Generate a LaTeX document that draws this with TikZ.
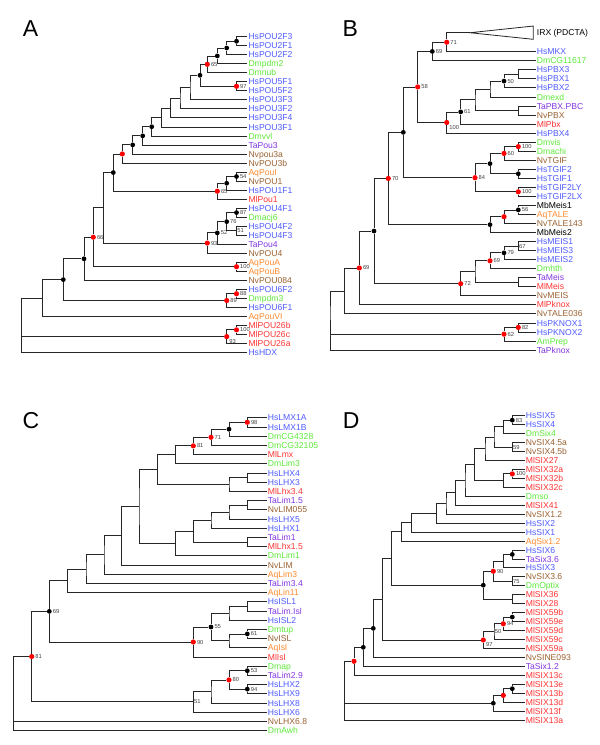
\documentclass[tikz,border=0pt]{standalone}
\usepackage{fontspec}
\setmainfont{Liberation Sans}
\usepackage{xcolor}
\definecolor{CHs}{HTML}{4F5BFF}
\definecolor{CDm}{HTML}{5EE83A}
\definecolor{CTa}{HTML}{8236E0}
\definecolor{CNv}{HTML}{9A6233}
\definecolor{CAq}{HTML}{FF8A2E}
\definecolor{CMl}{HTML}{FF3333}
\definecolor{CDot}{HTML}{FF0000}
\usepackage{tikz}
\newcommand{\leafFont}{\fontsize{8.6}{9}\selectfont}
\newcommand{\bootFont}{\fontsize{5.8}{6}\selectfont}
\newcommand{\panelFont}{\fontsize{23}{23}\selectfont}
\tikzstyle{branch}=[draw=black!85, line width=0.8pt]
\tikzstyle{leaf}=[anchor=west, inner sep=1pt, text height=6.2pt, text depth=0pt, font=\leafFont]
\tikzstyle{hsLeaf}=[leaf, text=CHs]
\tikzstyle{dmLeaf}=[leaf, text=CDm]
\tikzstyle{taLeaf}=[leaf, text=CTa]
\tikzstyle{nvLeaf}=[leaf, text=CNv]
\tikzstyle{aqLeaf}=[leaf, text=CAq]
\tikzstyle{mlLeaf}=[leaf, text=CMl]
\tikzstyle{mbLeaf}=[leaf, text=black]
\tikzstyle{blackDot}=[circle, fill=black, inner sep=0pt, minimum size=4.8pt]
\tikzstyle{redDot}=[circle, fill=CDot, inner sep=0pt, minimum size=5.2pt]
\tikzstyle{boot}=[font=\bootFont, text=black!75, inner sep=0.4pt, label distance=0.3pt]
\tikzstyle{panelLabel}=[font=\panelFont, inner sep=0pt]

\begin{document}
\begin{tikzpicture}[x=1pt,y=-1pt]
\useasboundingbox (0,0) rectangle (600,745);

\node[panelLabel] (labA) at (30.5,29) {A};
\node[panelLabel] (labB) at (350.3,29) {B};
\node[panelLabel] (labC) at (31,421) {C};
\node[panelLabel] (labD) at (351.3,421) {D};

% ---------------- A: POU ----------------
\begin{scope}[shift={(0,36.7)},y=-9.02pt]
\node[hsLeaf] (HsPOU2F3) at (247.3,0) {HsPOU2F3};
\node[hsLeaf] (HsPOU2F1) at (247.3,1) {HsPOU2F1};
\node[hsLeaf] (HsPOU2F2) at (247.3,2) {HsPOU2F2};
\node[dmLeaf] (Dmpdm2) at (247.3,3) {Dmpdm2};
\node[dmLeaf] (Dmnub) at (247.3,4) {Dmnub};
\node[hsLeaf] (HsPOU5F1) at (247.3,5) {HsPOU5F1};
\node[hsLeaf] (HsPOU5F2) at (247.3,6) {HsPOU5F2};
\node[hsLeaf] (HsPOU3F3) at (247.3,7) {HsPOU3F3};
\node[hsLeaf] (HsPOU3F2) at (247.3,8) {HsPOU3F2};
\node[hsLeaf] (HsPOU3F4) at (247.3,9) {HsPOU3F4};
\node[hsLeaf] (HsPOU3F1) at (247.3,10) {HsPOU3F1};
\node[dmLeaf] (Dmvvl) at (247.3,11) {Dmvvl};
\node[taLeaf] (TaPou3) at (247.3,12) {TaPou3};
\node[nvLeaf] (Nvpou3a) at (247.3,13) {Nvpou3a};
\node[nvLeaf] (NvPOU3b) at (247.3,14) {NvPOU3b};
\node[aqLeaf] (AqPouI) at (247.3,15) {AqPouI};
\node[nvLeaf] (NvPOU1) at (247.3,16) {NvPOU1};
\node[hsLeaf] (HsPOU1F1) at (247.3,17) {HsPOU1F1};
\node[mlLeaf] (MlPou1) at (247.3,18) {MlPou1};
\node[hsLeaf] (HsPOU4F1) at (247.3,19) {HsPOU4F1};
\node[dmLeaf] (Dmacj6) at (247.3,20) {Dmacj6};
\node[hsLeaf] (HsPOU4F2) at (247.3,21) {HsPOU4F2};
\node[hsLeaf] (HsPOU4F3) at (247.3,22) {HsPOU4F3};
\node[taLeaf] (TaPou4) at (247.3,23) {TaPou4};
\node[nvLeaf] (NvPOU4) at (247.3,24) {NvPOU4};
\node[aqLeaf] (AqPouA) at (247.3,25) {AqPouA};
\node[aqLeaf] (AqPouB) at (247.3,26) {AqPouB};
\node[nvLeaf] (NvPOU084) at (247.3,27) {NvPOU084};
\node[hsLeaf] (HsPOU6F2) at (247.3,28) {HsPOU6F2};
\node[dmLeaf] (Dmpdm3) at (247.3,29) {Dmpdm3};
\node[hsLeaf] (HsPOU6F1) at (247.3,30) {HsPOU6F1};
\node[aqLeaf] (AqPouVI) at (247.3,31) {AqPouVI};
\node[mlLeaf] (MlPOU26b) at (247.3,32) {MlPOU26b};
\node[mlLeaf] (MlPOU26c) at (247.3,33) {MlPOU26c};
\node[mlLeaf] (MlPOU26a) at (247.3,34) {MlPOU26a};
\node[hsLeaf] (HsHDX) at (247.3,35) {HsHDX};

\node[blackDot] (a1) at (236.5,0.5) {};
\node[blackDot] (a2) at (226.7,1.25) {};
\node[blackDot] (a3) at (217.3,2.13) {};
\node[redDot, label={[boot]right:65}] (a4) at (207.3,3.06) {};
\node[redDot, label={[boot]right:97}] (a5) at (236.5,5.5) {};
\node[blackDot] (a6) at (200,4.28) {};
\coordinate (a7) at (190,5.64);
\coordinate (a8) at (180,6.82);
\coordinate (a9) at (170.7,7.91);
\coordinate (a10) at (161.7,8.96);
\node[blackDot] (a11) at (151.7,9.98) {};
\node[blackDot] (a12) at (142.7,10.99) {};
\node[blackDot] (a13) at (132.7,11.99) {};
\node[redDot] (a14) at (122.3,13) {};
\node[blackDot, label={[boot]right:54}] (a15) at (236.5,15.5) {};
\node[blackDot] (a16) at (226.7,16.25) {};
\node[redDot, label={[boot]right:65}] (a17) at (217.3,17.13) {};
\node[blackDot] (a18) at (113.3,15.06) {};
\node[blackDot, label={[boot]right:87}] (a19) at (236.5,19.5) {};
\coordinate[label={[boot]right:51}] (a20) at (236.5,21.5);
\node[blackDot, label={[boot]right:76}] (a21) at (226.7,20.5) {};
\node[blackDot, label={[boot]right:52}] (a22) at (217.3,21.75) {};
\node[redDot, label={[boot]right:93}] (a23) at (207.3,22.88) {};
\coordinate (a24) at (103.3,18.97);
\node[redDot, label={[boot]right:100}] (a25) at (236.5,25.5) {};
\node[redDot, label={[boot]right:66}] (a26) at (93.3,22.23) {};
\node[blackDot] (a27) at (84,24.62) {};
\node[redDot, label={[boot]right:88}] (a28) at (236.5,28.5) {};
\node[redDot, label={[boot]right:89}] (a29) at (226.7,29.25) {};
\node[blackDot] (a30) at (63.3,26.93) {};
\coordinate (a31) at (42.7,28.97);
\node[redDot, label={[boot]right:100}] (a32) at (236.5,32.5) {};
\node[redDot, label={[boot]south east:93}] (a33) at (226.7,33.25) {};
\coordinate (a34) at (21.7,31.98);

\draw[branch] (HsPOU2F3) -| (a1) |- (HsPOU2F1);
\draw[branch] (a1) -| (a2) |- (HsPOU2F2);
\draw[branch] (a2) -| (a3) |- (Dmpdm2);
\draw[branch] (a3) -| (a4) |- (Dmnub);
\draw[branch] (HsPOU5F1) -| (a5) |- (HsPOU5F2);
\draw[branch] (a4) -| (a6) |- (a5);
\draw[branch] (a6) -| (a7) |- (HsPOU3F3);
\draw[branch] (a7) -| (a8) |- (HsPOU3F2);
\draw[branch] (a8) -| (a9) |- (HsPOU3F4);
\draw[branch] (a9) -| (a10) |- (HsPOU3F1);
\draw[branch] (a10) -| (a11) |- (Dmvvl);
\draw[branch] (a11) -| (a12) |- (TaPou3);
\draw[branch] (a12) -| (a13) |- (Nvpou3a);
\draw[branch] (a13) -| (a14) |- (NvPOU3b);
\draw[branch] (AqPouI) -| (a15) |- (NvPOU1);
\draw[branch] (a15) -| (a16) |- (HsPOU1F1);
\draw[branch] (a16) -| (a17) |- (MlPou1);
\draw[branch] (a14) -| (a18) |- (a17);
\draw[branch] (HsPOU4F1) -| (a19) |- (Dmacj6);
\draw[branch] (HsPOU4F2) -| (a20) |- (HsPOU4F3);
\draw[branch] (a19) -| (a21) |- (a20);
\draw[branch] (a21) -| (a22) |- (TaPou4);
\draw[branch] (a22) -| (a23) |- (NvPOU4);
\draw[branch] (a18) -| (a24) |- (a23);
\draw[branch] (AqPouA) -| (a25) |- (AqPouB);
\draw[branch] (a24) -| (a26) |- (a25);
\draw[branch] (a26) -| (a27) |- (NvPOU084);
\draw[branch] (HsPOU6F2) -| (a28) |- (Dmpdm3);
\draw[branch] (a28) -| (a29) |- (HsPOU6F1);
\draw[branch] (a27) -| (a30) |- (a29);
\draw[branch] (a30) -| (a31) |- (AqPouVI);
\draw[branch] (MlPOU26b) -| (a32) |- (MlPOU26c);
\draw[branch] (a32) -| (a33) |- (MlPOU26a);
\draw[branch] (a31) -| (a34) |- (HsHDX);
\draw[branch] (a34) |- (a33);
\end{scope}

% ---------------- B: TALE ----------------
\begin{scope}[shift={(0,51.7)},y=-9.04pt]
\node[mbLeaf] (irx) at (535.7,-2.1) {IRX (PDCTA)};
\node[hsLeaf] (HsMKX) at (535.7,0) {HsMKX};
\node[dmLeaf] (DmCG11617) at (535.7,1) {DmCG11617};
\node[hsLeaf] (HsPBX3) at (535.7,2) {HsPBX3};
\node[hsLeaf] (HsPBX1) at (535.7,3) {HsPBX1};
\node[hsLeaf] (HsPBX2) at (535.7,4) {HsPBX2};
\node[dmLeaf] (Dmexd) at (535.7,5) {Dmexd};
\node[taLeaf] (TaPBXPBC) at (535.7,6) {TaPBX.PBC};
\node[nvLeaf] (NvPBX) at (535.7,7) {NvPBX};
\node[mlLeaf] (MlPbx) at (535.7,8) {MlPbx};
\node[hsLeaf] (HsPBX4) at (535.7,9) {HsPBX4};
\node[dmLeaf] (Dmvis) at (535.7,10) {Dmvis};
\node[dmLeaf] (Dmachi) at (535.7,11) {Dmachi};
\node[nvLeaf] (NvTGIF) at (535.7,12) {NvTGIF};
\node[hsLeaf] (HsTGIF2) at (535.7,13) {HsTGIF2};
\node[hsLeaf] (HsTGIF1) at (535.7,14) {HsTGIF1};
\node[hsLeaf] (HsTGIF2LY) at (535.7,15) {HsTGIF2LY};
\node[hsLeaf] (HsTGIF2LX) at (535.7,16) {HsTGIF2LX};
\node[mbLeaf] (MbMeis1) at (535.7,17) {MbMeis1};
\node[aqLeaf] (AqTALE) at (535.7,18) {AqTALE};
\node[nvLeaf] (NvTALE143) at (535.7,19) {NvTALE143};
\node[mbLeaf] (MbMeis2) at (535.7,20) {MbMeis2};
\node[hsLeaf] (HsMEIS1) at (535.7,21) {HsMEIS1};
\node[hsLeaf] (HsMEIS3) at (535.7,22) {HsMEIS3};
\node[hsLeaf] (HsMEIS2) at (535.7,23) {HsMEIS2};
\node[dmLeaf] (Dmhth) at (535.7,24) {Dmhth};
\node[taLeaf] (TaMeis) at (535.7,25) {TaMeis};
\node[mlLeaf] (MlMeis) at (535.7,26) {MlMeis};
\node[nvLeaf] (NvMEIS) at (535.7,27) {NvMEIS};
\node[mlLeaf] (MlPknox) at (535.7,28) {MlPknox};
\node[nvLeaf] (NvTALE036) at (535.7,29) {NvTALE036};
\node[hsLeaf] (HsPKNOX1) at (535.7,30) {HsPKNOX1};
\node[hsLeaf] (HsPKNOX2) at (535.7,31) {HsPKNOX2};
\node[dmLeaf] (AmPrep) at (535.7,32) {AmPrep};
\node[taLeaf] (TaPknox) at (535.7,33) {TaPknox};

\coordinate (irxtip) at (470,-2.1);
\node[redDot, label={[boot]right:71}] (b1) at (446.7,-1.05) {};
\node[blackDot, label={[boot]right:69}] (b2) at (432.3,-0.03) {};
\coordinate (b3) at (518.3,2.5);
\node[blackDot, label={[boot]right:50}] (b4) at (504,3.25) {};
\coordinate (b5) at (490,4.13);
\coordinate (b6) at (518.3,6.5);
\coordinate (b7) at (475,5.31);
\node[blackDot, label={[boot]right:61}] (b8) at (460.7,6.66) {};
\node[redDot, label={[boot]south east:100}] (b9) at (446.7,7.83) {};
\node[redDot, label={[boot]right:58}] (b10) at (417.7,3.9) {};
\node[redDot, label={[boot]right:100}] (b11) at (518.3,10.5) {};
\node[redDot, label={[boot]right:60}] (b12) at (504,11.25) {};
\node[blackDot] (b13) at (518.3,13.5) {};
\node[blackDot] (b14) at (490,12.38) {};
\node[redDot, label={[boot]right:100}] (b15) at (518.3,15.5) {};
\node[redDot, label={[boot]right:84}] (b16) at (475,13.94) {};
\node[blackDot] (b17) at (403.3,8.92) {};
\node[blackDot, label={[boot]right:56}] (b18) at (518.3,17.5) {};
\node[redDot] (b19) at (504,18.25) {};
\node[blackDot] (b20) at (490,19.13) {};
\node[redDot, label={[boot]right:70}] (b21) at (388.3,14.02) {};
\coordinate[label={[boot]right:67}] (b22) at (518.3,21.5);
\node[blackDot, label={[boot]right:79}] (b23) at (504,22.25) {};
\node[redDot, label={[boot]right:69}] (b24) at (490,23.13) {};
\coordinate (b25) at (518.3,25.5);
\coordinate (b26) at (475,24.31);
\node[redDot, label={[boot]right:72}] (b27) at (460.7,25.66) {};
\node[blackDot] (b28) at (374,19.84) {};
\node[redDot, label={[boot]right:69}] (b29) at (359.3,23.92) {};
\coordinate (b30) at (344.3,26.46);
\node[redDot, label={[boot]right:82}] (b31) at (518.3,30.5) {};
\node[redDot, label={[boot]right:62}] (b32) at (504,31.25) {};
\coordinate (b33) at (330,29.73);

\draw[branch] (irxtip) -- (533.3,-2.84) -- (533.3,-1.37) -- cycle;
\draw[branch] (irxtip) -| (b1) |- (HsMKX);
\draw[branch] (b1) -| (b2) |- (DmCG11617);
\draw[branch] (HsPBX3) -| (b3) |- (HsPBX1);
\draw[branch] (b3) -| (b4) |- (HsPBX2);
\draw[branch] (b4) -| (b5) |- (Dmexd);
\draw[branch] (TaPBXPBC) -| (b6) |- (NvPBX);
\draw[branch] (b5) -| (b7) |- (b6);
\draw[branch] (b7) -| (b8) |- (MlPbx);
\draw[branch] (b8) -| (b9) |- (HsPBX4);
\draw[branch] (b2) -| (b10) |- (b9);
\draw[branch] (Dmvis) -| (b11) |- (Dmachi);
\draw[branch] (b11) -| (b12) |- (NvTGIF);
\draw[branch] (HsTGIF2) -| (b13) |- (HsTGIF1);
\draw[branch] (b12) -| (b14) |- (b13);
\draw[branch] (HsTGIF2LY) -| (b15) |- (HsTGIF2LX);
\draw[branch] (b14) -| (b16) |- (b15);
\draw[branch] (b10) -| (b17) |- (b16);
\draw[branch] (MbMeis1) -| (b18) |- (AqTALE);
\draw[branch] (b18) -| (b19) |- (NvTALE143);
\draw[branch] (b19) -| (b20) |- (MbMeis2);
\draw[branch] (b17) -| (b21) |- (b20);
\draw[branch] (HsMEIS1) -| (b22) |- (HsMEIS3);
\draw[branch] (b22) -| (b23) |- (HsMEIS2);
\draw[branch] (b23) -| (b24) |- (Dmhth);
\draw[branch] (TaMeis) -| (b25) |- (MlMeis);
\draw[branch] (b24) -| (b26) |- (b25);
\draw[branch] (b26) -| (b27) |- (NvMEIS);
\draw[branch] (b21) -| (b28) |- (b27);
\draw[branch] (b28) -| (b29) |- (MlPknox);
\draw[branch] (b29) -| (b30) |- (NvTALE036);
\draw[branch] (HsPKNOX1) -| (b31) |- (HsPKNOX2);
\draw[branch] (b31) -| (b32) |- (AmPrep);
\draw[branch] (b30) -| (b33) |- (TaPknox);
\draw[branch] (b33) |- (b32);
\end{scope}

% ---------------- C: LIM ----------------
\begin{scope}[shift={(0,417.7)},y=-9.2pt]
\node[hsLeaf] (HsLMX1A) at (266.7,0) {HsLMX1A};
\node[hsLeaf] (HsLMX1B) at (266.7,1) {HsLMX1B};
\node[dmLeaf] (DmCG4328) at (266.7,2) {DmCG4328};
\node[dmLeaf] (DmCG32105) at (266.7,3) {DmCG32105};
\node[mlLeaf] (MlLmx) at (266.7,4) {MlLmx};
\node[dmLeaf] (DmLim3) at (266.7,5) {DmLim3};
\node[hsLeaf] (HsLHX4) at (266.7,6) {HsLHX4};
\node[hsLeaf] (HsLHX3) at (266.7,7) {HsLHX3};
\node[mlLeaf] (MlLhx34) at (266.7,8) {MlLhx3.4};
\node[taLeaf] (TaLim15) at (266.7,9) {TaLim1.5};
\node[nvLeaf] (NvLIM055) at (266.7,10) {NvLIM055};
\node[hsLeaf] (HsLHX5) at (266.7,11) {HsLHX5};
\node[hsLeaf] (HsLHX1) at (266.7,12) {HsLHX1};
\node[taLeaf] (TaLim1) at (266.7,13) {TaLim1};
\node[mlLeaf] (MlLhx15) at (266.7,14) {MlLhx1.5};
\node[dmLeaf] (DmLim1) at (266.7,15) {DmLim1};
\node[nvLeaf] (NvLIM) at (266.7,16) {NvLIM};
\node[aqLeaf] (AqLim3) at (266.7,17) {AqLim3};
\node[taLeaf] (TaLim34) at (266.7,18) {TaLim3.4};
\node[aqLeaf] (AqLin11) at (266.7,19) {AqLin11};
\node[hsLeaf] (HsISL1) at (266.7,20) {HsISL1};
\node[taLeaf] (TaLimIsl) at (266.7,21) {TaLim.Isl};
\node[hsLeaf] (HsISL2) at (266.7,22) {HsISL2};
\node[dmLeaf] (Dmtup) at (266.7,23) {Dmtup};
\node[nvLeaf] (NvISL) at (266.7,24) {NvISL};
\node[aqLeaf] (AqIsl) at (266.7,25) {AqIsl};
\node[mlLeaf] (MlIsl) at (266.7,26) {MlIsl};
\node[dmLeaf] (Dmap) at (266.7,27) {Dmap};
\node[taLeaf] (TaLim29) at (266.7,28) {TaLim2.9};
\node[hsLeaf] (HsLHX2) at (266.7,29) {HsLHX2};
\node[hsLeaf] (HsLHX9) at (266.7,30) {HsLHX9};
\node[hsLeaf] (HsLHX8) at (266.7,31) {HsLHX8};
\node[hsLeaf] (HsLHX6) at (266.7,32) {HsLHX6};
\node[nvLeaf] (NvLHX68) at (266.7,33) {NvLHX6.8};
\node[dmLeaf] (DmAwh) at (266.7,34) {DmAwh};

\node[redDot, label={[boot]right:98}] (c1) at (247.3,0.5) {};
\node[blackDot] (c2) at (229,1.25) {};
\node[redDot, label={[boot]right:71}] (c3) at (211,2.13) {};
\node[redDot, label={[boot]right:81}] (c4) at (193.3,3.06) {};
\coordinate (c5) at (175.7,4.03);
\coordinate (c6) at (247.3,6.5);
\coordinate (c7) at (229,7.25);
\coordinate (c8) at (157.3,5.64);
\coordinate (c9) at (247.3,9.5);
\coordinate (c10) at (229,10.25);
\coordinate (c11) at (211,11.13);
\coordinate (c12) at (247.3,13.5);
\coordinate (c13) at (193.3,12.31);
\coordinate (c14) at (175.7,13.66);
\coordinate (c15) at (139,9.65);
\coordinate (c16) at (121.7,12.82);
\coordinate (c17) at (104,14.91);
\coordinate (c18) at (86,16.46);
\coordinate (c19) at (67.7,17.73);
\coordinate (c20) at (247.3,20.5);
\coordinate (c21) at (229,21.25);
\node[blackDot, label={[boot]right:61}] (c22) at (247.3,23.5) {};
\coordinate (c23) at (229,24.25);
\node[blackDot, label={[boot]right:55}] (c24) at (211,22.75) {};
\node[redDot, label={[boot]right:90}] (c25) at (193.3,24.38) {};
\node[blackDot, label={[boot]right:69}] (c26) at (49.3,21.05) {};
\node[blackDot, label={[boot]right:53}] (c27) at (247.3,27.5) {};
\node[blackDot, label={[boot]right:94}] (c28) at (247.3,29.5) {};
\node[redDot, label={[boot]right:80}] (c29) at (229,28.5) {};
\coordinate (c30) at (211,29.75);
\coordinate[label={[boot]right:51}] (c31) at (193.3,30.88);
\node[redDot, label={[boot]right:81}] (c32) at (31.7,25.96) {};
\coordinate (c33) at (13.3,29.98);

\draw[branch] (HsLMX1A) -| (c1) |- (HsLMX1B);
\draw[branch] (c1) -| (c2) |- (DmCG4328);
\draw[branch] (c2) -| (c3) |- (DmCG32105);
\draw[branch] (c3) -| (c4) |- (MlLmx);
\draw[branch] (c4) -| (c5) |- (DmLim3);
\draw[branch] (HsLHX4) -| (c6) |- (HsLHX3);
\draw[branch] (c6) -| (c7) |- (MlLhx34);
\draw[branch] (c5) -| (c8) |- (c7);
\draw[branch] (TaLim15) -| (c9) |- (NvLIM055);
\draw[branch] (c9) -| (c10) |- (HsLHX5);
\draw[branch] (c10) -| (c11) |- (HsLHX1);
\draw[branch] (TaLim1) -| (c12) |- (MlLhx15);
\draw[branch] (c11) -| (c13) |- (c12);
\draw[branch] (c13) -| (c14) |- (DmLim1);
\draw[branch] (c8) -| (c15) |- (c14);
\draw[branch] (c15) -| (c16) |- (NvLIM);
\draw[branch] (c16) -| (c17) |- (AqLim3);
\draw[branch] (c17) -| (c18) |- (TaLim34);
\draw[branch] (c18) -| (c19) |- (AqLin11);
\draw[branch] (HsISL1) -| (c20) |- (TaLimIsl);
\draw[branch] (c20) -| (c21) |- (HsISL2);
\draw[branch] (Dmtup) -| (c22) |- (NvISL);
\draw[branch] (c22) -| (c23) |- (AqIsl);
\draw[branch] (c21) -| (c24) |- (c23);
\draw[branch] (c24) -| (c25) |- (MlIsl);
\draw[branch] (c19) -| (c26) |- (c25);
\draw[branch] (Dmap) -| (c27) |- (TaLim29);
\draw[branch] (HsLHX2) -| (c28) |- (HsLHX9);
\draw[branch] (c27) -| (c29) |- (c28);
\draw[branch] (c29) -| (c30) |- (HsLHX8);
\draw[branch] (c30) -| (c31) |- (HsLHX6);
\draw[branch] (c26) -| (c32) |- (c31);
\draw[branch] (c32) -| (c33) |- (DmAwh);
\draw[branch] (c33) |- (NvLHX68);
\end{scope}

% ---------------- D: SIX ----------------
\begin{scope}[shift={(0,415.7)},y=-8.95pt]
\node[hsLeaf] (HsSIX5) at (524.7,0) {HsSIX5};
\node[hsLeaf] (HsSIX4) at (524.7,1) {HsSIX4};
\node[dmLeaf] (DmSix4) at (524.7,2) {DmSix4};
\node[nvLeaf] (NvSIX45a) at (524.7,3) {NvSIX4.5a};
\node[nvLeaf] (NvSIX45b) at (524.7,4) {NvSIX4.5b};
\node[mlLeaf] (MlSIX27) at (524.7,5) {MlSIX27};
\node[mlLeaf] (MlSIX32a) at (524.7,6) {MlSIX32a};
\node[mlLeaf] (MlSIX32b) at (524.7,7) {MlSIX32b};
\node[mlLeaf] (MlSIX32c) at (524.7,8) {MlSIX32c};
\node[dmLeaf] (Dmso) at (524.7,9) {Dmso};
\node[mlLeaf] (MlSIX41) at (524.7,10) {MlSIX41};
\node[nvLeaf] (NvSIX12) at (524.7,11) {NvSIX1.2};
\node[hsLeaf] (HsSIX2) at (524.7,12) {HsSIX2};
\node[hsLeaf] (HsSIX1) at (524.7,13) {HsSIX1};
\node[aqLeaf] (AqSix12) at (524.7,14) {AqSix1.2};
\node[hsLeaf] (HsSIX6) at (524.7,15) {HsSIX6};
\node[taLeaf] (TaSix36) at (524.7,16) {TaSix3.6};
\node[hsLeaf] (HsSIX3) at (524.7,17) {HsSIX3};
\node[nvLeaf] (NvSIX36) at (524.7,18) {NvSIX3.6};
\node[dmLeaf] (DmOptix) at (524.7,19) {DmOptix};
\node[mlLeaf] (MlSIX36) at (524.7,20) {MlSIX36};
\node[mlLeaf] (MlSIX28) at (524.7,21) {MlSIX28};
\node[mlLeaf] (MlSIX59b) at (524.7,22) {MlSIX59b};
\node[mlLeaf] (MlSIX59e) at (524.7,23) {MlSIX59e};
\node[mlLeaf] (MlSIX59d) at (524.7,24) {MlSIX59d};
\node[mlLeaf] (MlSIX59c) at (524.7,25) {MlSIX59c};
\node[mlLeaf] (MlSIX59a) at (524.7,26) {MlSIX59a};
\node[nvLeaf] (NvSINE093) at (524.7,27) {NvSINE093};
\node[taLeaf] (TaSix12) at (524.7,28) {TaSix1.2};
\node[mlLeaf] (MlSIX13c) at (524.7,29) {MlSIX13c};
\node[mlLeaf] (MlSIX13e) at (524.7,30) {MlSIX13e};
\node[mlLeaf] (MlSIX13b) at (524.7,31) {MlSIX13b};
\node[mlLeaf] (MlSIX13d) at (524.7,32) {MlSIX13d};
\node[mlLeaf] (MlSIX13f) at (524.7,33) {MlSIX13f};
\node[mlLeaf] (MlSIX13a) at (524.7,34) {MlSIX13a};

\node[blackDot, label={[boot]right:83}] (d1) at (512.3,0.5) {};
\coordinate (d2) at (503.3,1.25);
\coordinate[label={[boot]right:59}] (d3) at (512.3,3.5);
\coordinate (d4) at (494,2.38);
\coordinate (d5) at (485,3.69);
\node[redDot, label={[boot]right:100}] (d6) at (512.3,6.5) {};
\coordinate (d7) at (503.3,7.25);
\coordinate (d8) at (474.5,5.47);
\coordinate (d9) at (465,7.23);
\coordinate (d10) at (455.5,8.62);
\coordinate (d11) at (446,9.81);
\coordinate (d12) at (436.7,10.9);
\coordinate (d13) at (411.7,11.95);
\coordinate (d14) at (401.7,12.98);
\node[blackDot] (d15) at (512.3,15.5) {};
\coordinate (d16) at (503.3,16.25);
\coordinate[label={[boot]right:75}] (d17) at (512.3,18.5);
\node[redDot, label={[boot]right:90}] (d18) at (493.3,17.38) {};
\coordinate (d19) at (512.3,20.5);
\node[blackDot] (d20) at (483.3,18.94) {};
\coordinate (d21) at (391.7,15.96);
\node[blackDot] (d22) at (512.3,22.5) {};
\node[redDot, label={[boot]right:94}] (d23) at (503.3,23.25) {};
\coordinate[label={[boot]right:50}] (d24) at (494,24.13);
\node[redDot, label={[boot]south east:97}] (d25) at (483.3,25.06) {};
\coordinate (d26) at (382.7,20.51);
\node[blackDot] (d27) at (373.3,23.76) {};
\node[blackDot] (d28) at (363.3,25.88) {};
\node[redDot] (d29) at (354,27.44) {};
\node[blackDot] (d30) at (512.3,30.5) {};
\node[redDot] (d31) at (503.3,31.25) {};
\node[blackDot] (d32) at (493.3,32.13) {};
\coordinate (d33) at (344.3,30.72);

\draw[branch] (HsSIX5) -| (d1) |- (HsSIX4);
\draw[branch] (d1) -| (d2) |- (DmSix4);
\draw[branch] (NvSIX45a) -| (d3) |- (NvSIX45b);
\draw[branch] (d2) -| (d4) |- (d3);
\draw[branch] (d4) -| (d5) |- (MlSIX27);
\draw[branch] (MlSIX32a) -| (d6) |- (MlSIX32b);
\draw[branch] (d6) -| (d7) |- (MlSIX32c);
\draw[branch] (d5) -| (d8) |- (d7);
\draw[branch] (d8) -| (d9) |- (Dmso);
\draw[branch] (d9) -| (d10) |- (MlSIX41);
\draw[branch] (d10) -| (d11) |- (NvSIX12);
\draw[branch] (d11) -| (d12) |- (HsSIX2);
\draw[branch] (d12) -| (d13) |- (HsSIX1);
\draw[branch] (d13) -| (d14) |- (AqSix12);
\draw[branch] (HsSIX6) -| (d15) |- (TaSix36);
\draw[branch] (d15) -| (d16) |- (HsSIX3);
\draw[branch] (NvSIX36) -| (d17) |- (DmOptix);
\draw[branch] (d16) -| (d18) |- (d17);
\draw[branch] (MlSIX36) -| (d19) |- (MlSIX28);
\draw[branch] (d18) -| (d20) |- (d19);
\draw[branch] (d14) -| (d21) |- (d20);
\draw[branch] (MlSIX59b) -| (d22) |- (MlSIX59e);
\draw[branch] (d22) -| (d23) |- (MlSIX59d);
\draw[branch] (d23) -| (d24) |- (MlSIX59c);
\draw[branch] (d24) -| (d25) |- (MlSIX59a);
\draw[branch] (d21) -| (d26) |- (d25);
\draw[branch] (d26) -| (d27) |- (NvSINE093);
\draw[branch] (d27) -| (d28) |- (TaSix12);
\draw[branch] (d28) -| (d29) |- (MlSIX13c);
\draw[branch] (MlSIX13e) -| (d30) |- (MlSIX13b);
\draw[branch] (d30) -| (d31) |- (MlSIX13d);
\draw[branch] (d31) -| (d32) |- (MlSIX13f);
\draw[branch] (d29) -| (d33) |- (MlSIX13a);
\draw[branch] (d33) |- (d32);
\end{scope}
\end{tikzpicture}
\end{document}
